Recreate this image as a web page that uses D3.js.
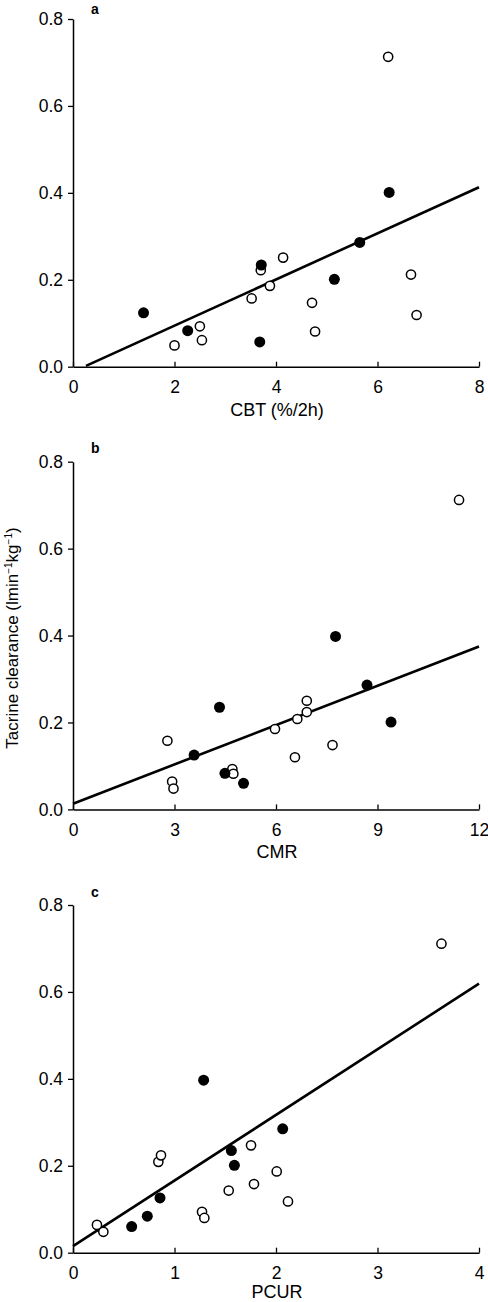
<!DOCTYPE html>
<html><head><meta charset="utf-8">
<script src="https://cdn.jsdelivr.net/npm/d3@7"></script>
<style>
body{margin:0;background:#fff;}
svg{display:block;font-family:"Liberation Sans",Arial,Helvetica,sans-serif;}
</style></head>
<body><div id="chart"></div>
<script>
// ---- data ----
const panelLetters = ["a","b","c"];
const xLabels = ["CBT (%/2h)","CMR","PCUR"];
const xDomains = [[0,8],[0,12],[0,4]];
const xTicks = [[0,2,4,6,8],[0,3,6,9,12],[0,1,2,3,4]];
const yTicks = [0,0.2,0.4,0.6,0.8];

// panel a (CBT)
const aFilledX = [1.39,2.26,3.71,3.68,5.15,5.65,6.23];
const aFilledY = [0.124,0.083,0.234,0.057,0.201,0.286,0.401];
const aOpenX = [6.21,2.00,2.50,2.54,3.52,3.70,3.88,4.14,4.71,4.77,6.66,6.77];
const aOpenY = [0.713,0.049,0.093,0.061,0.157,0.222,0.186,0.251,0.147,0.081,0.212,0.119];
const aLineX = [0.256,8];
const aLineY = [0.002,0.413];

// panel b (CMR)
const bFilledX = [3.58,4.33,4.49,5.04,7.76,8.69,9.40];
const bFilledY = [0.125,0.235,0.083,0.060,0.398,0.286,0.201];
const bOpenX = [11.41,2.79,2.93,2.97,4.71,4.74,5.97,6.56,6.63,6.91,6.91,7.67];
const bOpenY = [0.712,0.158,0.064,0.048,0.093,0.082,0.185,0.120,0.208,0.250,0.224,0.148];
const bLineX = [0,12];
const bLineY = [0.013,0.375];

// panel c (PCUR)
const cFilledX = [0.578,0.732,0.857,1.287,1.56,1.59,2.066];
const cFilledY = [0.060,0.084,0.126,0.397,0.235,0.201,0.285];
const cOpenX = [3.63,0.236,0.299,0.841,0.867,1.271,1.294,1.534,1.754,1.783,2.007,2.118];
const cOpenY = [0.711,0.064,0.048,0.209,0.224,0.094,0.080,0.143,0.247,0.158,0.187,0.118];
const cLineX = [0,4];
const cLineY = [0.015,0.619];

const panels = [
  {fx:aFilledX,fy:aFilledY,ox:aOpenX,oy:aOpenY,lx:aLineX,ly:aLineY},
  {fx:bFilledX,fy:bFilledY,ox:bOpenX,oy:bOpenY,lx:bLineX,ly:bLineY},
  {fx:cFilledX,fy:cFilledY,ox:cOpenX,oy:cOpenY,lx:cLineX,ly:cLineY}
];

// ---- layout ----
const W = 488, H = 1302;
const left = 73, right = 479;
const tops = [19, 461.7, 905];
const plotH = 347.7;
const labelGap = [49, 49, 45];
const letterY = [13.5, 453.2, 896.5];

const svg = d3.select("#chart").append("svg").attr("width",W).attr("height",H);

panels.forEach((p,i)=>{
  const x = d3.scaleLinear().domain(xDomains[i]).range([left,right]);
  const y = d3.scaleLinear().domain([0,0.8]).range([tops[i]+plotH, tops[i]]);
  const g = svg.append("g");

  const xAxis = g.append("g").attr("transform",`translate(0,${tops[i]+plotH})`)
    .call(d3.axisBottom(x).tickValues(xTicks[i]).tickFormat(d3.format("d")).tickSizeInner(-5).tickSizeOuter(0).tickPadding(14));
  const yAxis = g.append("g").attr("transform",`translate(${left},0)`)
    .call(d3.axisLeft(y).tickValues(yTicks).tickFormat(d3.format(".1f")).tickSizeInner(5).tickSizeOuter(0).tickPadding(5));
  [xAxis,yAxis].forEach(ax=>{
    ax.select(".domain").attr("stroke","#000").attr("stroke-width",1.5);
    ax.selectAll(".tick line").attr("stroke","#000").attr("stroke-width",1.3);
    ax.selectAll("text").attr("fill","#000").style("font-size","17.5px").style("font-family","'Liberation Sans',Arial,sans-serif");
  });

  // regression line
  const lineData = p.lx.map((v,k)=>[v,p.ly[k]]);
  g.append("path").datum(lineData)
    .attr("d", d3.line().x(d=>x(d[0])).y(d=>y(d[1])))
    .attr("stroke","#000").attr("stroke-width",2.6).attr("fill","none");

  // open circles
  g.selectAll("circle.open").data(p.ox.map((v,k)=>[v,p.oy[k]])).enter()
    .append("circle").attr("class","open")
    .attr("cx",d=>x(d[0])).attr("cy",d=>y(d[1])).attr("r",4.6)
    .attr("fill","#fff").attr("stroke","#000").attr("stroke-width",1.5);
  // filled circles
  g.selectAll("circle.filled").data(p.fx.map((v,k)=>[v,p.fy[k]])).enter()
    .append("circle").attr("class","filled")
    .attr("cx",d=>x(d[0])).attr("cy",d=>y(d[1])).attr("r",5.5)
    .attr("fill","#000");

  // panel letter
  g.append("text").attr("x",91).attr("y",letterY[i])
    .style("font-size","14px").style("font-weight","bold").text(panelLetters[i]);

  // x label
  g.append("text").attr("x",(left+right)/2+1).attr("y",tops[i]+plotH+labelGap[i])
    .attr("text-anchor","middle").style("font-size","18px").text(xLabels[i]);
});

// y label
const yl = svg.append("text").attr("transform","translate(18,638) rotate(-90)")
  .attr("text-anchor","middle").style("font-size","17px");
yl.append("tspan").text("Tacrine clearance (lmin");
yl.append("tspan").attr("dy",-6).style("font-size","10px").text("−1");
yl.append("tspan").attr("dy",6).text("kg");
yl.append("tspan").attr("dy",-6).style("font-size","10px").text("−1");
yl.append("tspan").attr("dy",6).text(")");
</script></body></html>
